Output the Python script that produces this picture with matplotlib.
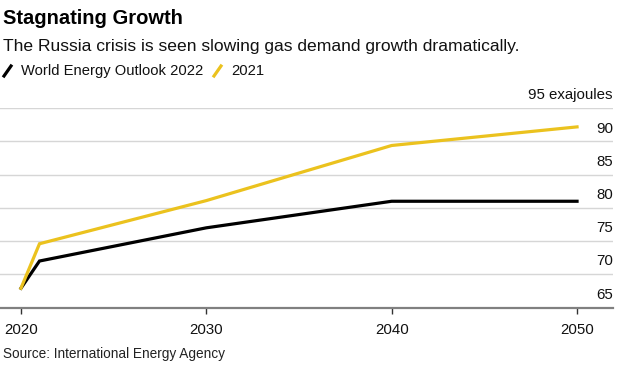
import matplotlib
matplotlib.use("Agg")
import matplotlib.pyplot as plt
from matplotlib.lines import Line2D

# World Energy Outlook gas demand, exajoules
years = [2020, 2021, 2030, 2040, 2050]
weo_2022 = [67.9, 72.0, 77.0, 81.0, 81.0]
weo_2021 = [67.9, 74.6, 81.1, 89.4, 92.2]
yticks = [65, 70, 75, 80, 85, 90, 95]
xticks = [2020, 2030, 2040, 2050]

W, H = 626, 373
plt.rcParams["font.family"] = ["Liberation Sans", "DejaVu Sans"]

fig = plt.figure(figsize=(W / 100, H / 100), dpi=100)
fig.patch.set_facecolor("white")
ax = fig.add_axes([0.0, 1 - 307.5 / H, 613 / W, (307.5 - 108.3) / H])

ax.plot(years, weo_2022, color="#000000", lw=2.3, solid_joinstyle="miter", zorder=3)
ax.plot(years, weo_2021, color="#ebc21e", lw=2.3, solid_joinstyle="miter", zorder=3)

ax.set_xlim(2018.87, 2051.94)
ax.set_ylim(65, 95)

for v in yticks[1:]:
    ax.axhline(v, color="#d6d6d6", lw=1.0, zorder=1)
for v in yticks:
    lab = f"{v} exajoules" if v == 95 else str(v)
    ax.text(1.0, v + 0.9, lab, transform=ax.get_yaxis_transform(),
            ha="right", va="bottom", fontsize=10.8, color="#111111")

for s in ["top", "right", "left"]:
    ax.spines[s].set_visible(False)
ax.spines["bottom"].set_color("#808080")
ax.spines["bottom"].set_linewidth(1.6)
ax.set_yticks([])
ax.set_xticks(xticks)
ax.tick_params(axis="x", length=4, width=1, color="#333333", pad=7,
               labelsize=10.8, labelcolor="#111111")

# title block
fig.text(3 / W, 1 - 18 / H, "Stagnating Growth", fontsize=14.5, fontweight="bold",
         va="center", ha="left", color="#000000")
fig.text(3 / W, 1 - 46 / H, "The Russia crisis is seen slowing gas demand growth dramatically.",
         fontsize=12.6, va="center", ha="left", color="#111111")

# legend with slash keys
fig.add_artist(Line2D([4 / W, 11 / W], [1 - 76 / H, 1 - 66 / H], color="#000000", lw=2.3))
fig.text(21 / W, 1 - 71 / H, "World Energy Outlook 2022", fontsize=10.6,
         va="center", ha="left", color="#111111")
fig.add_artist(Line2D([214 / W, 221 / W], [1 - 76 / H, 1 - 66 / H], color="#ebc21e", lw=2.3))
fig.text(231 / W, 1 - 71 / H, "2021", fontsize=10.6,
         va="center", ha="left", color="#111111")

fig.text(3 / W, 1 - 354 / H, "Source: International Energy Agency", fontsize=9.8,
         va="center", ha="left", color="#222222")

fig.savefig("out.png", dpi=100, facecolor="white")
